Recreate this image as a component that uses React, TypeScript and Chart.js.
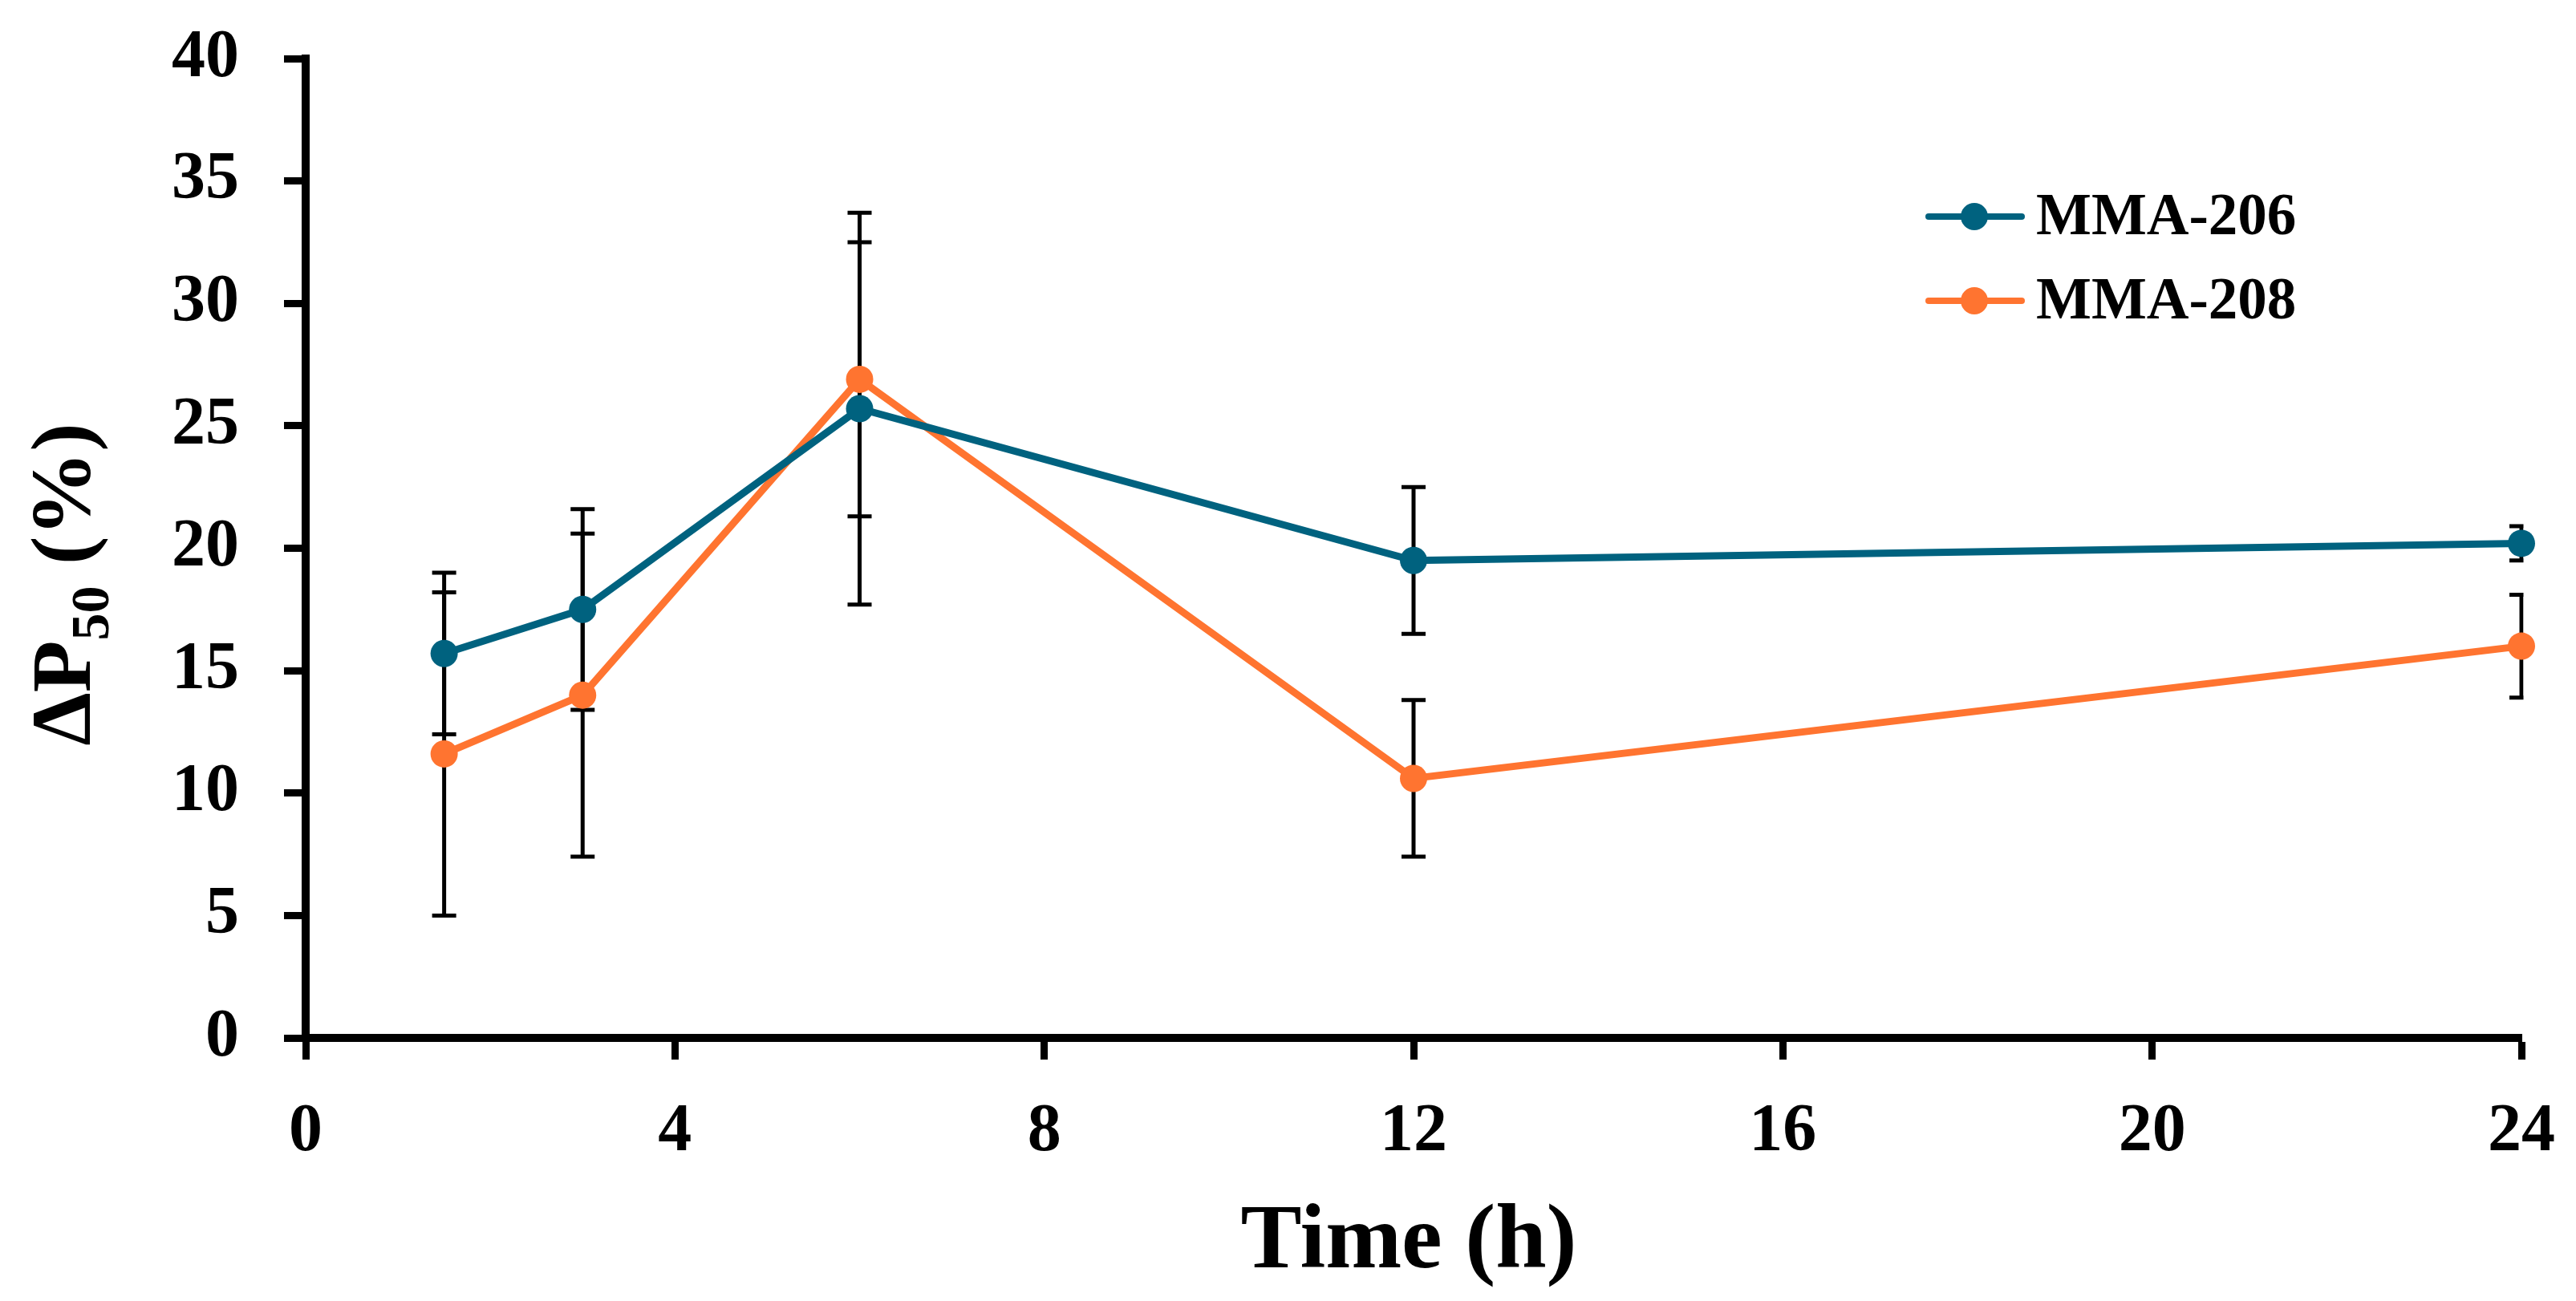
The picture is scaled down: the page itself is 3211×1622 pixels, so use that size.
import React, { useEffect, useRef } from "react";
import { Chart, registerables } from "chart.js";
import type { Plugin } from "chart.js";

Chart.register(...registerables);

// Sampling times (h) and mean ΔP50 values
const hours = [1.5, 3, 6, 12, 24];
const mma206 = [15.7, 17.5, 25.7, 19.5, 20.2];
const mma206Err = [3.3, 4.1, 8.0, 3.0, 0.7];
const mma208 = [11.6, 14.0, 26.9, 10.6, 16.0];
const mma208Err = [6.6, 6.6, 5.6, 3.2, 2.1];

const seriesNames = ["MMA-206", "MMA-208"];
const xTitle = "Time (h)";
const yTitleMain = "ΔP";
const yTitleSub = "50";
const yTitleTail = " (%)";

const TEAL = "#00627f";
const ORANGE = "#ff7430";
const SERIF = '"Liberation Serif", "Times New Roman", serif';

const errorSets = [mma206Err, mma208Err];

// Black error bars, drawn under the lines and markers
const errorBars: Plugin<"line"> = {
  id: "errorBars",
  beforeDatasetsDraw(chart) {
    const { ctx, chartArea, scales } = chart;
    const xs = scales.x;
    const ys = scales.y;
    ctx.save();
    ctx.beginPath();
    ctx.rect(0, 0, chartArea.right + 2.5, chart.height);
    ctx.clip();
    ctx.strokeStyle = "#000";
    ctx.lineWidth = 5;
    chart.data.datasets.forEach((ds, i) => {
      const errs = errorSets[i];
      (ds.data as { x: number; y: number }[]).forEach((p, j) => {
        const px = xs.getPixelForValue(p.x);
        const top = ys.getPixelForValue(p.y + errs[j]);
        const bot = ys.getPixelForValue(p.y - errs[j]);
        ctx.beginPath();
        ctx.moveTo(px, top);
        ctx.lineTo(px, bot);
        ctx.moveTo(px - 15, top);
        ctx.lineTo(px + 15, top);
        ctx.moveTo(px - 15, bot);
        ctx.lineTo(px + 15, bot);
        ctx.stroke();
      });
    });
    ctx.restore();
  },
};

// Legend with line + dot, and the two axis titles
const decorations: Plugin<"line"> = {
  id: "decorations",
  afterDraw(chart) {
    const { ctx, chartArea } = chart;
    ctx.save();

    // legend
    chart.data.datasets.forEach((ds, i) => {
      const y = 270 + i * 105;
      const color = ds.borderColor as string;
      ctx.strokeStyle = color;
      ctx.lineWidth = 8;
      ctx.lineCap = "round";
      ctx.beginPath();
      ctx.moveTo(2404, y);
      ctx.lineTo(2520, y);
      ctx.stroke();
      ctx.fillStyle = color;
      ctx.beginPath();
      ctx.arc(2461, y, 17, 0, Math.PI * 2);
      ctx.fill();
      ctx.fillStyle = "#000";
      ctx.font = `bold 73px ${SERIF}`;
      ctx.textAlign = "left";
      ctx.textBaseline = "middle";
      ctx.fillText(ds.label as string, 2538, y + 3);
    });

    // x title
    ctx.fillStyle = "#000";
    ctx.font = `bold 114px ${SERIF}`;
    ctx.textAlign = "center";
    ctx.textBaseline = "alphabetic";
    ctx.fillText(xTitle, (chartArea.left + chartArea.right) / 2 - 6, 1580);

    // y title with subscript
    const mainFont = `bold 106px ${SERIF}`;
    const subFont = `bold 68px ${SERIF}`;
    ctx.font = mainFont;
    const w1 = ctx.measureText(yTitleMain).width;
    const w3 = ctx.measureText(yTitleTail).width;
    ctx.font = subFont;
    const w2 = ctx.measureText(yTitleSub).width;
    const total = w1 + w2 + w3;
    const cy = (chartArea.top + chartArea.bottom) / 2 + 45;
    ctx.translate(112, cy + total / 2);
    ctx.rotate(-Math.PI / 2);
    ctx.textAlign = "left";
    ctx.font = mainFont;
    ctx.fillText(yTitleMain, 0, 0);
    ctx.font = subFont;
    ctx.fillText(yTitleSub, w1, 23);
    ctx.font = mainFont;
    ctx.fillText(yTitleTail, w1 + w2, 0);

    ctx.restore();
  },
};

const App: React.FC = () => {
  const canvasRef = useRef<HTMLCanvasElement | null>(null);
  const chartRef = useRef<Chart<"line"> | null>(null);

  useEffect(() => {
    document.body.style.margin = "0";
    if (chartRef.current) chartRef.current.destroy();
    if (!canvasRef.current) return;

    const tickFont = { family: SERIF, size: 84, weight: "bold" as const };
    const lineStyle = (color: string) => ({
      borderColor: color,
      backgroundColor: color,
      borderWidth: 9,
      pointRadius: 17,
      pointBorderWidth: 0,
      pointBackgroundColor: color,
      tension: 0,
      clip: false as const,
    });

    chartRef.current = new Chart(canvasRef.current, {
      type: "line",
      data: {
        datasets: [
          {
            label: seriesNames[0],
            data: hours.map((h, i) => ({ x: h, y: mma206[i] })),
            ...lineStyle(TEAL),
          },
          {
            label: seriesNames[1],
            data: hours.map((h, i) => ({ x: h, y: mma208[i] })),
            ...lineStyle(ORANGE),
          },
        ],
      },
      options: {
        responsive: false,
        animation: false,
        devicePixelRatio: 1,
        layout: { padding: { left: 0, right: 68, top: 73, bottom: 0 } },
        scales: {
          x: {
            type: "linear",
            min: 0,
            max: 24,
            ticks: { stepSize: 4, font: tickFont, color: "#000", padding: 41, maxRotation: 0 },
            grid: { drawOnChartArea: false, drawTicks: true, tickLength: 27, tickWidth: 9, tickColor: "#000" },
            border: { display: true, width: 10, color: "#000" },
            afterFit: (scale) => {
              scale.height = 328;
              scale.paddingLeft = 0;
              scale.paddingRight = 0;
            },
          },
          y: {
            min: 0,
            max: 40,
            ticks: { stepSize: 5, font: tickFont, color: "#000", padding: 56 },
            grid: { drawOnChartArea: false, drawTicks: true, tickLength: 27, tickWidth: 9, tickColor: "#000" },
            border: { display: true, width: 10, color: "#000" },
            afterFit: (scale) => {
              scale.width = 381;
              scale.paddingTop = 0;
              scale.paddingBottom = 0;
            },
          },
        },
        plugins: {
          legend: { display: false },
          tooltip: { enabled: false },
        },
      },
      plugins: [errorBars, decorations],
    });

    return () => {
      if (chartRef.current) {
        chartRef.current.destroy();
        chartRef.current = null;
      }
    };
  }, []);

  return (
    <div style={{ width: 3211, height: 1622, background: "#fff" }}>
      <canvas ref={canvasRef} width={3211} height={1622} style={{ display: "block" }} />
    </div>
  );
};

export default App;
